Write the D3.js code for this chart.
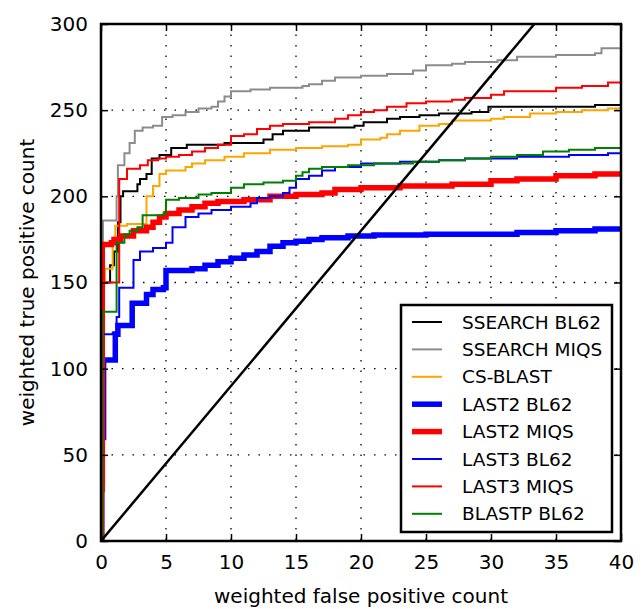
<!DOCTYPE html>
<html>
<head>
<meta charset="utf-8">
<script src="https://cdn.jsdelivr.net/npm/d3@7"></script>
<style>
  body { margin: 0; background: #fff; }
  svg { font-family: 'DejaVu Sans', sans-serif; }
</style>
</head>
<body>
<div id="chart"></div>
<script>
// Step curves: [false positives, true positives]
const ssearchBl62 = [[0,0],[0.1,150],[0.7,160],[1.0,168],[1.3,185],[1.5,200],[1.7,203],[2.8,207],[3.0,210],[3.5,213],[3.9,222],[4.5,224],[5.4,228],[6.6,230],[9.5,231],[12.5,233],[13.2,236],[14,238],[16,240],[19.5,241],[20.2,243],[22,245],[23,246],[24.5,247],[26,248],[28.5,249],[29.8,252],[35,252],[38,253],[40,253]];
const ssearchMiqs = [[0,0],[0.15,186],[1.2,200],[1.3,218],[1.8,225],[2.2,231],[2.6,238],[3.2,240],[4.0,241],[4.7,246],[5.5,247],[6.5,249],[7.5,251],[8.5,252],[9.0,255],[9.5,258],[10,261],[11.5,262],[13,263],[15.5,264],[16,265],[17,267],[18,269],[20,270],[22,271],[24,273],[25,276],[27,277],[28,278],[30.5,279],[32,281],[35,282],[38,283],[38.5,286],[40,287]];
const csBlast = [[0,0],[0.1,150],[0.3,158],[0.9,175],[1.1,183],[2.0,184],[3.5,200],[4.0,206],[4.5,213],[5.0,215],[6.5,217],[7.0,219],[8.0,221],[9.5,223],[11,225],[13,227],[15,228],[17,229],[19,230],[20,233],[21.5,234],[22,236],[23,238],[24.5,241],[26,242],[27,244],[30,245],[31,246],[33,248],[35,249],[37,250],[39,251],[40,252]];
const last2Bl62 = [[0,0],[0.05,35],[0.1,60],[0.2,105],[1.0,105],[1.1,120],[1.3,125],[2.2,125],[2.4,138],[3.2,138],[3.5,143],[4.0,146],[4.8,147],[5.0,157],[6.0,157],[7.0,158],[8.0,160],[9.0,162],[10,164],[11,166],[12,168],[13,171],[14,173],[15,174],[16,175],[17,176],[19,177],[21,177.5],[25,178],[30,178],[32,179],[35,180],[38,181],[40,181]];
const last2Miqs = [[0,0],[0.05,30],[0.1,172],[0.8,173],[1.0,175],[1.5,177],[2.5,180],[3.5,182],[4.0,185],[4.5,188],[5.0,190],[6.0,192],[7.0,194],[8.0,196],[9.0,197],[11,198],[13,200],[15,201],[17,202],[18,204],[20,205],[23,206],[27,207],[30,209],[32,210],[35,212],[38,213],[40,214]];
const last3Bl62 = [[0,0],[0.15,120],[0.9,121],[1.2,130],[1.4,147],[2.2,147],[2.5,163],[3.0,168],[4.0,170],[5.0,173],[5.5,182],[6.5,188],[7.5,190],[8.5,192],[10,194],[11.5,196],[12,199],[13,200],[14,202],[14.5,205],[15,210],[16,212],[17,215],[18,217],[20,219],[23,220],[26,221],[28,222],[32,223],[36,224],[39,225],[40,225]];
const last3Miqs = [[0,0],[0.15,150],[1.3,150],[1.4,210],[2.0,216],[3.0,218],[3.6,221],[4.4,222],[5.0,223],[6.0,224],[7.0,226],[8.0,228],[9.0,230],[10,235],[11,236],[12,239],[13,241],[14,242],[16,243],[18,245],[19,247],[20,249],[21,250],[22,252],[23.5,254],[25,255],[27,256],[28,257],[30,259],[31,261],[35,263],[37,264],[39,266],[40,266]];
const blastpBl62 = [[0,0],[0.1,133],[1.0,133],[1.2,173],[1.8,178],[2.2,180],[2.8,182],[3.2,189],[4.8,190],[5.0,198],[6.0,199],[7.5,201],[8.5,202],[10,205],[11,207],[12.5,208],[14,209],[15,212],[15.5,214],[16,216],[17,217],[19,218],[21,219],[24,220],[26,221],[28,222],[30,223],[32,224],[34,226],[36,227],[38,228],[40,229]];

const seriesNames = ['SSEARCH BL62','SSEARCH MIQS','CS-BLAST','LAST2 BL62','LAST2 MIQS','LAST3 BL62','LAST3 MIQS','BLASTP BL62'];
const seriesData = [ssearchBl62, ssearchMiqs, csBlast, last2Bl62, last2Miqs, last3Bl62, last3Miqs, blastpBl62];
const seriesColors = ['#000000','#8c8c8c','#ffa500','#0000ff','#ff0000','#0000ff','#ff0000','#008000'];
const seriesWidths = [2, 2, 2, 5.5, 5.5, 2, 2, 2];

const xTicks = [0,5,10,15,20,25,30,35,40];
const yTicks = [0,50,100,150,200,250,300];
const diagonal = [[0,0],[40,360]];

const W = 644, H = 609;
const margin = { top: 24, right: 23, bottom: 68, left: 101 };
const width = W - margin.left - margin.right;
const height = H - margin.top - margin.bottom;

const svg = d3.select('#chart').append('svg')
  .attr('width', W).attr('height', H);

const g = svg.append('g').attr('transform', `translate(${margin.left},${margin.top})`);

const x = d3.scaleLinear().domain([0, 40]).range([0, width]);
const y = d3.scaleLinear().domain([0, 300]).range([height, 0]);

// dotted grid
g.append('g').selectAll('line.gx').data(xTicks.slice(1, -1)).join('line')
  .attr('x1', d => x(d)).attr('x2', d => x(d)).attr('y1', 0).attr('y2', height)
  .attr('stroke', '#000').attr('stroke-width', 1.3).attr('stroke-dasharray', '1.5,9');
g.append('g').selectAll('line.gy').data(yTicks.slice(1, -1)).join('line')
  .attr('y1', d => y(d)).attr('y2', d => y(d)).attr('x1', 0).attr('x2', width)
  .attr('stroke', '#000').attr('stroke-width', 1.3).attr('stroke-dasharray', '1.5,9');

g.append('clipPath').attr('id', 'clip').append('rect')
  .attr('width', width).attr('height', height);

const line = d3.line().x(d => x(d[0])).y(d => y(d[1])).curve(d3.curveStepAfter);

const plot = g.append('g').attr('clip-path', 'url(#clip)');
seriesData.forEach((data, i) => {
  plot.append('path').datum(data)
    .attr('d', line)
    .attr('fill', 'none')
    .attr('stroke', seriesColors[i])
    .attr('stroke-width', seriesWidths[i])
    .attr('stroke-linejoin', 'miter');
});

plot.append('path').datum(diagonal)
  .attr('d', d3.line().x(d => x(d[0])).y(d => y(d[1])))
  .attr('stroke', '#000').attr('stroke-width', 2.5).attr('fill', 'none');

// axes: ticks pointing inward on all four sides
const axisStyle = sel => {
  sel.select('.domain').remove();
  sel.selectAll('.tick line').attr('stroke', '#000').attr('stroke-width', 1.5);
  sel.selectAll('.tick text').attr('fill', '#000').style('font-size', '20px')
    .style('font-family', "'DejaVu Sans', sans-serif");
};
g.append('g').attr('transform', `translate(0,${height})`)
  .call(d3.axisBottom(x).tickValues(xTicks).tickSizeInner(-7).tickPadding(14))
  .call(axisStyle);
g.append('g')
  .call(d3.axisLeft(y).tickValues(yTicks).tickSizeInner(-7).tickPadding(13))
  .call(axisStyle);
g.append('g')
  .call(d3.axisTop(x).tickValues(xTicks).tickSizeInner(-7).tickFormat(''))
  .call(axisStyle);
g.append('g').attr('transform', `translate(${width},0)`)
  .call(d3.axisRight(y).tickValues(yTicks).tickSizeInner(-7).tickFormat(''))
  .call(axisStyle);

g.append('rect').attr('width', width).attr('height', height)
  .attr('fill', 'none').attr('stroke', '#000').attr('stroke-width', 2.5);

// axis titles
g.append('text')
  .attr('x', width / 2).attr('y', height + 62)
  .attr('text-anchor', 'middle').style('font-size', '20px')
  .text('weighted false positive count');
g.append('text')
  .attr('transform', `translate(${-67},${height / 2}) rotate(-90)`)
  .attr('text-anchor', 'middle').style('font-size', '20px')
  .text('weighted true positive count');

// legend
const legend = svg.append('g').attr('transform', 'translate(401,305)');
legend.append('rect').attr('width', 211).attr('height', 227)
  .attr('fill', '#fff').attr('stroke', '#000').attr('stroke-width', 2.5);
const rows = legend.selectAll('g.row').data(seriesNames).join('g')
  .attr('transform', (d, i) => `translate(0,${17 + i * 27.4})`);
rows.append('line')
  .attr('x1', 11).attr('x2', 41)
  .attr('stroke', (d, i) => seriesColors[i])
  .attr('stroke-width', (d, i) => seriesWidths[i] > 3 ? 5.5 : 2);
rows.append('text')
  .attr('x', 61).attr('y', 6.5)
  .style('font-size', '18.5px')
  .text(d => d);
</script>
</body>
</html>
